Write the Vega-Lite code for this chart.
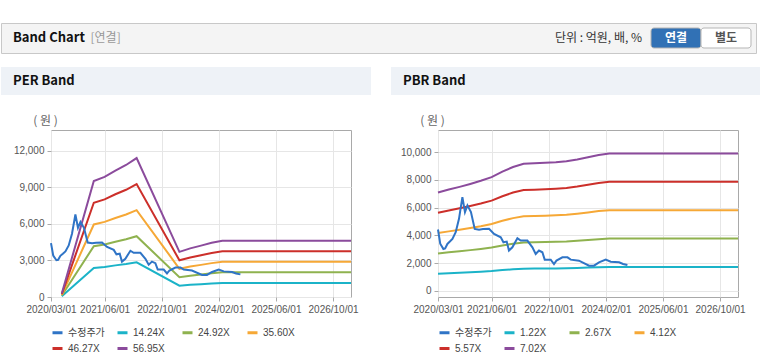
{
  "$schema": "https://vega.github.io/schema/vega-lite/v6.json",
  "background": "white",
  "padding": {"left": 0, "top": 22, "right": 0, "bottom": 0},
  "autosize": {"type": "pad"},
  "config": {
    "font": "Liberation Sans, Noto Sans CJK KR",
    "view": {"stroke": null},
    "axis": {
      "labelFont": "Liberation Sans",
      "labelFontSize": 10,
      "labelColor": "#555555",
      "labelPadding": 3,
      "labelOverlap": false,
      "labelFlush": false,
      "tickColor": "#aaaaaa",
      "tickSize": 4,
      "grid": true,
      "gridColor": "#e6e6e6",
      "domain": false,
      "titleFont": "Noto Sans CJK KR",
      "titleFontWeight": "normal",
      "titleFontSize": 12,
      "titleColor": "#666666"
    },
    "legend": {
      "orient": "bottom",
      "direction": "horizontal",
      "columns": 4,
      "symbolType": "stroke",
      "symbolSize": 100,
      "symbolStrokeWidth": 3,
      "labelFont": "Liberation Sans, Noto Sans CJK KR",
      "labelFontSize": 10,
      "labelColor": "#444444",
      "labelOffset": 4,
      "gridAlign": "all",
      "columnPadding": 6,
      "rowPadding": 3,
      "offset": 12,
      "padding": 0,
      "title": null
    }
  },
  "datasets": {
    "price": [
      {"s": "수정주가", "d": "2020-03-01", "v": 4420},
      {"s": "수정주가", "d": "2020-03-20", "v": 3400},
      {"s": "수정주가", "d": "2020-04-16", "v": 3015},
      {"s": "수정주가", "d": "2020-05-01", "v": 3050},
      {"s": "수정주가", "d": "2020-05-20", "v": 3377},
      {"s": "수정주가", "d": "2020-06-10", "v": 3550},
      {"s": "수정주가", "d": "2020-07-02", "v": 3740},
      {"s": "수정주가", "d": "2020-07-30", "v": 4225},
      {"s": "수정주가", "d": "2020-08-27", "v": 5190},
      {"s": "수정주가", "d": "2020-09-25", "v": 6760},
      {"s": "수정주가", "d": "2020-10-17", "v": 5673},
      {"s": "수정주가", "d": "2020-11-07", "v": 6160},
      {"s": "수정주가", "d": "2020-12-07", "v": 5673},
      {"s": "수정주가", "d": "2021-01-08", "v": 4465},
      {"s": "수정주가", "d": "2021-02-14", "v": 4400},
      {"s": "수정주가", "d": "2021-03-20", "v": 4450},
      {"s": "수정주가", "d": "2021-05-10", "v": 4465},
      {"s": "수정주가", "d": "2021-06-22", "v": 4100},
      {"s": "수정주가", "d": "2021-08-18", "v": 3860},
      {"s": "수정주가", "d": "2021-09-10", "v": 3500},
      {"s": "수정주가", "d": "2021-10-08", "v": 3550},
      {"s": "수정주가", "d": "2021-10-27", "v": 2900},
      {"s": "수정주가", "d": "2021-11-25", "v": 3137},
      {"s": "수정주가", "d": "2022-01-07", "v": 3790},
      {"s": "수정주가", "d": "2022-02-04", "v": 3620},
      {"s": "수정주가", "d": "2022-04-02", "v": 3620},
      {"s": "수정주가", "d": "2022-05-15", "v": 3137},
      {"s": "수정주가", "d": "2022-06-12", "v": 2652},
      {"s": "수정주가", "d": "2022-07-10", "v": 2900},
      {"s": "수정주가", "d": "2022-08-08", "v": 2775},
      {"s": "수정주가", "d": "2022-08-28", "v": 2246},
      {"s": "수정주가", "d": "2022-10-18", "v": 2246},
      {"s": "수정주가", "d": "2022-11-15", "v": 1930},
      {"s": "수정주가", "d": "2022-12-06", "v": 2174},
      {"s": "수정주가", "d": "2023-01-26", "v": 2413},
      {"s": "수정주가", "d": "2023-03-10", "v": 2413},
      {"s": "수정주가", "d": "2023-04-07", "v": 2246},
      {"s": "수정주가", "d": "2023-06-16", "v": 2174},
      {"s": "수정주가", "d": "2023-09-10", "v": 1811},
      {"s": "수정주가", "d": "2023-10-22", "v": 1811},
      {"s": "수정주가", "d": "2023-12-04", "v": 2050},
      {"s": "수정주가", "d": "2024-01-30", "v": 2246},
      {"s": "수정주가", "d": "2024-03-13", "v": 2100},
      {"s": "수정주가", "d": "2024-05-23", "v": 2050},
      {"s": "수정주가", "d": "2024-06-26", "v": 1930},
      {"s": "수정주가", "d": "2024-08-02", "v": 1855}
    ],
    "per": [
      {"s": "14.24X", "d": "2020-06-01", "v": 71},
      {"s": "14.24X", "d": "2021-03-01", "v": 2378},
      {"s": "14.24X", "d": "2021-06-01", "v": 2464},
      {"s": "14.24X", "d": "2021-09-01", "v": 2592},
      {"s": "14.24X", "d": "2021-12-01", "v": 2706},
      {"s": "14.24X", "d": "2022-03-01", "v": 2848},
      {"s": "14.24X", "d": "2023-03-01", "v": 926},
      {"s": "14.24X", "d": "2023-06-01", "v": 997},
      {"s": "14.24X", "d": "2023-09-01", "v": 1054},
      {"s": "14.24X", "d": "2023-12-01", "v": 1111},
      {"s": "14.24X", "d": "2024-03-01", "v": 1153},
      {"s": "14.24X", "d": "2027-03-03", "v": 1153},
      {"s": "24.92X", "d": "2020-06-01", "v": 125},
      {"s": "24.92X", "d": "2021-03-01", "v": 4162},
      {"s": "24.92X", "d": "2021-06-01", "v": 4311},
      {"s": "24.92X", "d": "2021-09-01", "v": 4535},
      {"s": "24.92X", "d": "2021-12-01", "v": 4735},
      {"s": "24.92X", "d": "2022-03-01", "v": 4984},
      {"s": "24.92X", "d": "2023-03-01", "v": 1620},
      {"s": "24.92X", "d": "2023-06-01", "v": 1744},
      {"s": "24.92X", "d": "2023-09-01", "v": 1844},
      {"s": "24.92X", "d": "2023-12-01", "v": 1944},
      {"s": "24.92X", "d": "2024-03-01", "v": 2019},
      {"s": "24.92X", "d": "2027-03-03", "v": 2019},
      {"s": "35.60X", "d": "2020-06-01", "v": 178},
      {"s": "35.60X", "d": "2021-03-01", "v": 5945},
      {"s": "35.60X", "d": "2021-06-01", "v": 6159},
      {"s": "35.60X", "d": "2021-09-01", "v": 6479},
      {"s": "35.60X", "d": "2021-12-01", "v": 6764},
      {"s": "35.60X", "d": "2022-03-01", "v": 7120},
      {"s": "35.60X", "d": "2023-03-01", "v": 2314},
      {"s": "35.60X", "d": "2023-06-01", "v": 2492},
      {"s": "35.60X", "d": "2023-09-01", "v": 2634},
      {"s": "35.60X", "d": "2023-12-01", "v": 2777},
      {"s": "35.60X", "d": "2024-03-01", "v": 2884},
      {"s": "35.60X", "d": "2027-03-03", "v": 2884},
      {"s": "46.27X", "d": "2020-06-01", "v": 231},
      {"s": "46.27X", "d": "2021-03-01", "v": 7727},
      {"s": "46.27X", "d": "2021-06-01", "v": 8005},
      {"s": "46.27X", "d": "2021-09-01", "v": 8421},
      {"s": "46.27X", "d": "2021-12-01", "v": 8791},
      {"s": "46.27X", "d": "2022-03-01", "v": 9254},
      {"s": "46.27X", "d": "2023-03-01", "v": 3008},
      {"s": "46.27X", "d": "2023-06-01", "v": 3239},
      {"s": "46.27X", "d": "2023-09-01", "v": 3424},
      {"s": "46.27X", "d": "2023-12-01", "v": 3609},
      {"s": "46.27X", "d": "2024-03-01", "v": 3748},
      {"s": "46.27X", "d": "2027-03-03", "v": 3748},
      {"s": "56.95X", "d": "2020-06-01", "v": 285},
      {"s": "56.95X", "d": "2021-03-01", "v": 9511},
      {"s": "56.95X", "d": "2021-06-01", "v": 9852},
      {"s": "56.95X", "d": "2021-09-01", "v": 10365},
      {"s": "56.95X", "d": "2021-12-01", "v": 10821},
      {"s": "56.95X", "d": "2022-03-01", "v": 11390},
      {"s": "56.95X", "d": "2023-03-01", "v": 3702},
      {"s": "56.95X", "d": "2023-06-01", "v": 3987},
      {"s": "56.95X", "d": "2023-09-01", "v": 4214},
      {"s": "56.95X", "d": "2023-12-01", "v": 4442},
      {"s": "56.95X", "d": "2024-03-01", "v": 4613},
      {"s": "56.95X", "d": "2027-03-03", "v": 4613}
    ],
    "pbr": [
      {"s": "1.22X", "d": "2020-03-01", "v": 1232},
      {"s": "1.22X", "d": "2020-06-01", "v": 1269},
      {"s": "1.22X", "d": "2020-09-01", "v": 1303},
      {"s": "1.22X", "d": "2020-12-01", "v": 1340},
      {"s": "1.22X", "d": "2021-03-01", "v": 1379},
      {"s": "1.22X", "d": "2021-06-01", "v": 1425},
      {"s": "1.22X", "d": "2021-09-01", "v": 1495},
      {"s": "1.22X", "d": "2021-12-01", "v": 1552},
      {"s": "1.22X", "d": "2022-03-01", "v": 1592},
      {"s": "1.22X", "d": "2022-06-01", "v": 1598},
      {"s": "1.22X", "d": "2022-09-01", "v": 1604},
      {"s": "1.22X", "d": "2022-12-01", "v": 1613},
      {"s": "1.22X", "d": "2023-03-01", "v": 1625},
      {"s": "1.22X", "d": "2023-06-01", "v": 1647},
      {"s": "1.22X", "d": "2023-09-01", "v": 1674},
      {"s": "1.22X", "d": "2023-12-01", "v": 1702},
      {"s": "1.22X", "d": "2024-03-01", "v": 1723},
      {"s": "1.22X", "d": "2027-03-03", "v": 1723},
      {"s": "2.67X", "d": "2020-03-01", "v": 2697},
      {"s": "2.67X", "d": "2020-06-01", "v": 2777},
      {"s": "2.67X", "d": "2020-09-01", "v": 2852},
      {"s": "2.67X", "d": "2020-12-01", "v": 2932},
      {"s": "2.67X", "d": "2021-03-01", "v": 3017},
      {"s": "2.67X", "d": "2021-06-01", "v": 3119},
      {"s": "2.67X", "d": "2021-09-01", "v": 3271},
      {"s": "2.67X", "d": "2021-12-01", "v": 3396},
      {"s": "2.67X", "d": "2022-03-01", "v": 3484},
      {"s": "2.67X", "d": "2022-06-01", "v": 3498},
      {"s": "2.67X", "d": "2022-09-01", "v": 3511},
      {"s": "2.67X", "d": "2022-12-01", "v": 3530},
      {"s": "2.67X", "d": "2023-03-01", "v": 3556},
      {"s": "2.67X", "d": "2023-06-01", "v": 3605},
      {"s": "2.67X", "d": "2023-09-01", "v": 3663},
      {"s": "2.67X", "d": "2023-12-01", "v": 3725},
      {"s": "2.67X", "d": "2024-03-01", "v": 3770},
      {"s": "2.67X", "d": "2027-03-03", "v": 3770},
      {"s": "4.12X", "d": "2020-03-01", "v": 4161},
      {"s": "4.12X", "d": "2020-06-01", "v": 4285},
      {"s": "4.12X", "d": "2020-09-01", "v": 4400},
      {"s": "4.12X", "d": "2020-12-01", "v": 4524},
      {"s": "4.12X", "d": "2021-03-01", "v": 4656},
      {"s": "4.12X", "d": "2021-06-01", "v": 4812},
      {"s": "4.12X", "d": "2021-09-01", "v": 5047},
      {"s": "4.12X", "d": "2021-12-01", "v": 5241},
      {"s": "4.12X", "d": "2022-03-01", "v": 5377},
      {"s": "4.12X", "d": "2022-06-01", "v": 5397},
      {"s": "4.12X", "d": "2022-09-01", "v": 5418},
      {"s": "4.12X", "d": "2022-12-01", "v": 5447},
      {"s": "4.12X", "d": "2023-03-01", "v": 5488},
      {"s": "4.12X", "d": "2023-06-01", "v": 5562},
      {"s": "4.12X", "d": "2023-09-01", "v": 5653},
      {"s": "4.12X", "d": "2023-12-01", "v": 5747},
      {"s": "4.12X", "d": "2024-03-01", "v": 5817},
      {"s": "4.12X", "d": "2027-03-03", "v": 5817},
      {"s": "5.57X", "d": "2020-03-01", "v": 5626},
      {"s": "5.57X", "d": "2020-06-01", "v": 5793},
      {"s": "5.57X", "d": "2020-09-01", "v": 5949},
      {"s": "5.57X", "d": "2020-12-01", "v": 6116},
      {"s": "5.57X", "d": "2021-03-01", "v": 6294},
      {"s": "5.57X", "d": "2021-06-01", "v": 6506},
      {"s": "5.57X", "d": "2021-09-01", "v": 6823},
      {"s": "5.57X", "d": "2021-12-01", "v": 7085},
      {"s": "5.57X", "d": "2022-03-01", "v": 7269},
      {"s": "5.57X", "d": "2022-06-01", "v": 7297},
      {"s": "5.57X", "d": "2022-09-01", "v": 7325},
      {"s": "5.57X", "d": "2022-12-01", "v": 7364},
      {"s": "5.57X", "d": "2023-03-01", "v": 7419},
      {"s": "5.57X", "d": "2023-06-01", "v": 7520},
      {"s": "5.57X", "d": "2023-09-01", "v": 7642},
      {"s": "5.57X", "d": "2023-12-01", "v": 7770},
      {"s": "5.57X", "d": "2024-03-01", "v": 7865},
      {"s": "5.57X", "d": "2027-03-03", "v": 7865},
      {"s": "7.02X", "d": "2020-03-01", "v": 7090},
      {"s": "7.02X", "d": "2020-06-01", "v": 7301},
      {"s": "7.02X", "d": "2020-09-01", "v": 7497},
      {"s": "7.02X", "d": "2020-12-01", "v": 7708},
      {"s": "7.02X", "d": "2021-03-01", "v": 7933},
      {"s": "7.02X", "d": "2021-06-01", "v": 8199},
      {"s": "7.02X", "d": "2021-09-01", "v": 8600},
      {"s": "7.02X", "d": "2021-12-01", "v": 8929},
      {"s": "7.02X", "d": "2022-03-01", "v": 9161},
      {"s": "7.02X", "d": "2022-06-01", "v": 9196},
      {"s": "7.02X", "d": "2022-09-01", "v": 9231},
      {"s": "7.02X", "d": "2022-12-01", "v": 9280},
      {"s": "7.02X", "d": "2023-03-01", "v": 9351},
      {"s": "7.02X", "d": "2023-06-01", "v": 9477},
      {"s": "7.02X", "d": "2023-09-01", "v": 9631},
      {"s": "7.02X", "d": "2023-12-01", "v": 9793},
      {"s": "7.02X", "d": "2024-03-01", "v": 9912},
      {"s": "7.02X", "d": "2027-03-03", "v": 9912}
    ]
  },
  "spacing": 13,
  "vconcat": [
    {
      "width": 755,
      "height": 30,
      "view": {"fill": "#f4f4f4", "stroke": "#c8c8c8"},
      "layer": [
        {
          "data": {"values": [{"label": "Band Chart", "kind": "title"}, {"label": "[연결]", "kind": "basis"}]},
          "encoding": {
            "x": {"field": "label", "type": "nominal", "sort": null, "bandPosition": 0,
                  "scale": {"type": "band", "domain": ["Band Chart", "[연결]", "l3", "l4", "l5", "l6", "l7", "l8", "l9", "l10"], "paddingInner": 0, "paddingOuter": 0}, "axis": null},
            "y": {"datum": "r", "type": "nominal", "scale": {"type": "band", "paddingOuter": 0.25, "paddingInner": 0}, "axis": null},
            "text": {"field": "label"}
          },
          "layer": [
            {"transform": [{"filter": "datum.kind === 'title'"}],
             "mark": {"type": "text", "align": "left", "dx": 12, "baseline": "middle", "font": "Noto Sans CJK KR", "fontWeight": "bold", "fontSize": 13, "color": "#111111"}},
            {"transform": [{"filter": "datum.kind === 'basis'"}],
             "mark": {"type": "text", "align": "left", "dx": 14, "baseline": "middle", "font": "Noto Sans CJK KR", "fontSize": 12, "color": "#999999"}}
          ]
        },
        {
          "data": {"values": [{"item": "unit", "label": "단위 : 억원, 배, %"}, {"item": "연결", "label": "연결"}, {"item": "별도", "label": "별도"}]},
          "encoding": {
            "x": {"field": "item", "type": "nominal", "sort": null,
                  "scale": {"type": "band", "domain": ["r1", "r2", "r3", "r4", "r5", "r6", "r7", "r8", "r9", "r10", "r11", "r12", "unit", "연결", "별도"], "paddingInner": 0, "paddingOuter": 0.05, "align": 0}, "axis": null},
            "y": {"datum": "r", "type": "nominal", "scale": {"type": "band", "paddingOuter": 0.25, "paddingInner": 0}, "axis": null}
          },
          "layer": [
            {"transform": [{"filter": "datum.item !== 'unit'"}],
             "mark": {"type": "rect", "cornerRadius": 3, "stroke": "#b5b5b5", "strokeWidth": 1},
             "encoding": {"fill": {"condition": {"test": "datum.item === '연결'", "value": "#3171b5"}, "value": "#ffffff"}}},
            {"transform": [{"filter": "datum.item !== 'unit'"}],
             "mark": {"type": "text", "baseline": "middle", "font": "Noto Sans CJK KR", "fontWeight": "bold", "fontSize": 12},
             "encoding": {"text": {"field": "label"},
                          "color": {"condition": {"test": "datum.item === '연결'", "value": "#ffffff"}, "value": "#555555"}}},
            {"transform": [{"filter": "datum.item === 'unit'"}],
             "mark": {"type": "text", "align": "right", "baseline": "middle", "dx": -9, "font": "Noto Sans CJK KR", "fontSize": 12, "color": "#333333"},
             "encoding": {"x": {"field": "item", "type": "nominal", "bandPosition": 1}, "text": {"field": "label"}}}
          ]
        }
      ],
      "resolve": {"scale": {"x": "independent"}}
    },
    {
      "width": 760,
      "height": 33,
      "data": {"values": [{"panel": "PER Band"}, {"panel": "PBR Band"}]},
      "encoding": {
        "x": {"field": "panel", "type": "nominal", "sort": null,
              "scale": {"type": "band", "domain": ["PER Band", "PBR Band"], "paddingInner": 0.0513, "paddingOuter": 0}, "axis": null},
        "y": {"datum": "h", "type": "nominal", "scale": {"type": "band", "paddingInner": 0, "paddingOuter": 0.0893, "align": 0}, "axis": null}
      },
      "layer": [
        {"mark": {"type": "rect", "fill": "#eef2f7"}},
        {"mark": {"type": "text", "align": "left", "baseline": "middle", "dx": 12, "font": "Noto Sans CJK KR", "fontWeight": "bold", "fontSize": 13, "color": "#111111"},
         "encoding": {"x": {"field": "panel", "type": "nominal", "bandPosition": 0}, "text": {"field": "panel"}}}
      ]
    },
    {
      "spacing": 10,
      "hconcat": [
        {"width": 1, "height": 167, "data": {"values": []}, "mark": "point"},
        {
          "spacing": 40,
          "resolve": {"scale": {"color": "independent", "y": "independent", "x": "independent"}, "legend": {"color": "independent"}},
          "hconcat": [
            {
              "width": 300,
              "height": 167,
              "view": {"stroke": "#a9a9a9"},
              "encoding": {
                "x": {"field": "d", "type": "temporal",
                      "scale": {"type": "utc", "domain": [{"year": 2020, "month": 3, "date": 1, "utc": true}, {"year": 2027, "month": 3, "date": 3, "utc": true}]},
                      "axis": {"title": null, "format": "%Y/%m/%d",
                               "values": [{"year": 2020, "month": 3, "date": 1, "utc": true}, {"year": 2021, "month": 6, "date": 1, "utc": true}, {"year": 2022, "month": 10, "date": 1, "utc": true}, {"year": 2024, "month": 2, "date": 1, "utc": true}, {"year": 2025, "month": 6, "date": 1, "utc": true}, {"year": 2026, "month": 10, "date": 1, "utc": true}]}},
                "y": {"field": "v", "type": "quantitative",
                      "scale": {"domain": [0, 13690], "nice": false, "zero": false},
                      "axis": {"values": [0, 3000, 6000, 9000, 12000], "format": ",d", "title": "( 원 )", "titleAngle": 0, "titleX": -6, "titleY": -10, "titleAlign": "center", "titleBaseline": "middle"}},
                "color": {"field": "s", "type": "nominal",
                          "scale": {"domain": ["수정주가", "14.24X", "24.92X", "35.60X", "46.27X", "56.95X"],
                                    "range": ["#2f74c6", "#1bb3c8", "#8fb24f", "#f6a836", "#cc2f2a", "#8b4b9c"]}}
              },
              "layer": [
                {"data": {"name": "per"}, "mark": {"type": "line", "strokeWidth": 2}},
                {"data": {"name": "price"}, "mark": {"type": "line", "strokeWidth": 2}}
              ]
            },
            {
              "width": 300,
              "height": 167,
              "view": {"stroke": "#a9a9a9"},
              "encoding": {
                "x": {"field": "d", "type": "temporal",
                      "scale": {"type": "utc", "domain": [{"year": 2020, "month": 3, "date": 1, "utc": true}, {"year": 2027, "month": 3, "date": 3, "utc": true}]},
                      "axis": {"title": null, "format": "%Y/%m/%d",
                               "values": [{"year": 2020, "month": 3, "date": 1, "utc": true}, {"year": 2021, "month": 6, "date": 1, "utc": true}, {"year": 2022, "month": 10, "date": 1, "utc": true}, {"year": 2024, "month": 2, "date": 1, "utc": true}, {"year": 2025, "month": 6, "date": 1, "utc": true}, {"year": 2026, "month": 10, "date": 1, "utc": true}]}},
                "y": {"field": "v", "type": "quantitative",
                      "scale": {"domain": [-450, 11600], "nice": false, "zero": false},
                      "axis": {"values": [0, 2000, 4000, 6000, 8000, 10000], "format": ",d", "title": "( 원 )", "titleAngle": 0, "titleX": -6, "titleY": -10, "titleAlign": "center", "titleBaseline": "middle"}},
                "color": {"field": "s", "type": "nominal",
                          "scale": {"domain": ["수정주가", "1.22X", "2.67X", "4.12X", "5.57X", "7.02X"],
                                    "range": ["#2f74c6", "#1bb3c8", "#8fb24f", "#f6a836", "#cc2f2a", "#8b4b9c"]}}
              },
              "layer": [
                {"data": {"name": "pbr"}, "mark": {"type": "line", "strokeWidth": 2}},
                {"data": {"name": "price"}, "mark": {"type": "line", "strokeWidth": 2}}
              ]
            }
          ]
        }
      ]
    }
  ]
}
